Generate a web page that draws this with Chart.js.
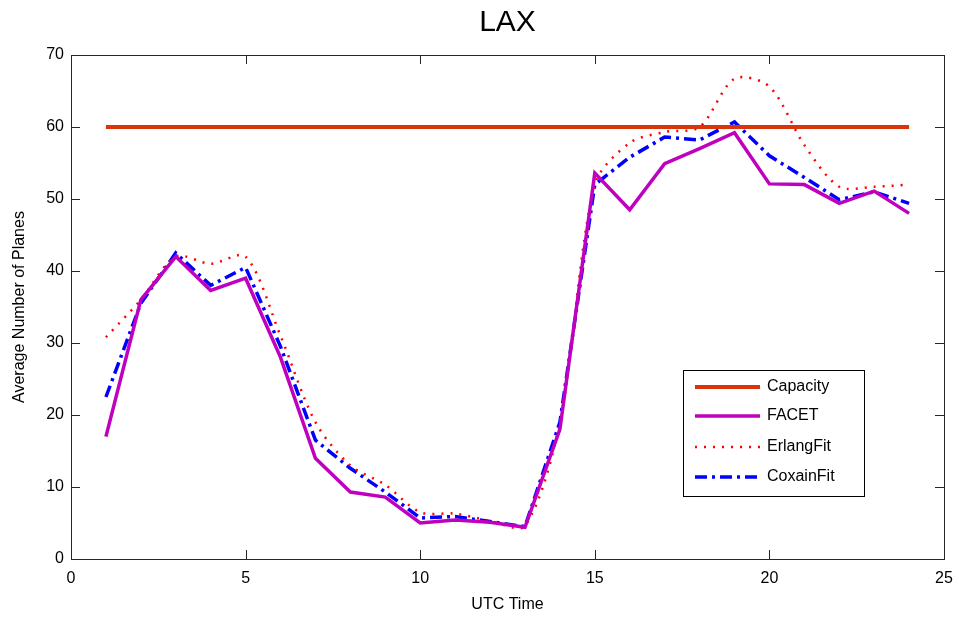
<!DOCTYPE html>
<html>
<head>
<meta charset="utf-8">
<script src="https://cdn.jsdelivr.net/npm/chart.js@4.4.1/dist/chart.umd.min.js"></script>
<style>
html,body{margin:0;padding:0;background:#fff;}
#wrap{width:959px;height:620px;}
</style>
</head>
<body>
<div id="wrap"><canvas id="c" width="959" height="620"></canvas></div>
<script>
const hours = [1,2,3,4,5,6,7,8,9,10,11,12,13,14,15,16,17,18,19,20,21,22,23,24];
const capacity = [60,60,60,60,60,60,60,60,60,60,60,60,60,60,60,60,60,60,60,60,60,60,60,60];
const facet = [17,36,42,37.3,39,28,14,9.3,8.6,5,5.4,5.1,4.4,18,53.6,48.5,54.9,57,59.2,52.1,52,49.4,51.1,48];
const erlangFit = [30.8,36,42,41,42,31,19,13,10.3,6.5,6.3,5.3,4.6,19,52,57.8,59.3,60,66.7,65.6,57.5,51.7,51.7,52];
const coxainFit = [22.5,35.5,42.5,38,40.5,29.5,16.5,12.6,9.3,5.7,5.9,5.2,4.5,19,52,55.8,58.6,58.2,60.7,56,53,49.9,51,49.4];
const xTicks = [0,5,10,15,20,25];
const yTicks = [0,10,20,30,40,50,60,70];
const titleText = 'LAX';
const xLabel = 'UTC Time';
const yLabel = 'Average Number of Planes';

const FONT = "'Liberation Sans', Arial, sans-serif";
function pts(arr){ return hours.map((h,i)=>({x:h,y:arr[i]})); }

const decor = {
  id:'decor',
  afterDraw(chart){
    const ctx = chart.ctx, a = chart.chartArea;
    const xs = chart.scales.x, ys = chart.scales.y;
    ctx.save();
    ctx.strokeStyle = '#262626'; ctx.lineWidth = 1;
    ctx.strokeRect(Math.round(a.left)+0.5, Math.round(a.top)+0.5, Math.round(a.right-a.left), Math.round(a.bottom-a.top));
    const L = 9;
    ctx.beginPath();
    xTicks.forEach(v=>{
      const p = Math.round(xs.getPixelForValue(v))+0.5;
      ctx.moveTo(p,a.bottom); ctx.lineTo(p,a.bottom-L);
      ctx.moveTo(p,a.top); ctx.lineTo(p,a.top+L);
    });
    yTicks.forEach(v=>{
      const p = Math.round(ys.getPixelForValue(v))+0.5;
      ctx.moveTo(a.left,p); ctx.lineTo(a.left+L,p);
      ctx.moveTo(a.right,p); ctx.lineTo(a.right-L,p);
    });
    ctx.stroke();
    // title
    ctx.fillStyle = '#000';
    ctx.font = '30px ' + FONT;
    ctx.textAlign = 'center'; ctx.textBaseline = 'middle';
    ctx.fillText(titleText, (a.left+a.right)/2, 23);
    // legend
    const bx = 683, by = 370, bw = 181, bh = 126;
    ctx.fillStyle = '#fff';
    ctx.fillRect(bx,by,bw,bh);
    ctx.strokeStyle = '#000'; ctx.lineWidth = 1;
    ctx.strokeRect(bx+0.5,by+0.5,bw,bh);
    const rows = [387,416,447,477];
    chart.data.datasets.forEach((ds,i)=>{
      const y = rows[i];
      ctx.save();
      ctx.strokeStyle = ds.borderColor;
      ctx.lineWidth = ds.borderWidth;
      ctx.setLineDash(ds.borderDash || []);
      ctx.beginPath(); ctx.moveTo(695,y); ctx.lineTo(760,y); ctx.stroke();
      ctx.restore();
      ctx.fillStyle = '#000';
      ctx.font = '16px ' + FONT;
      ctx.textAlign = 'left'; ctx.textBaseline = 'middle';
      ctx.fillText(ds.label, 767, y);
    });
    ctx.restore();
  }
};

new Chart(document.getElementById('c'), {
  type:'line',
  data:{
    datasets:[
      {label:'Capacity', data:pts(capacity), borderColor:'#d9340a', borderWidth:4, pointRadius:0, fill:false},
      {label:'FACET', data:pts(facet), borderColor:'#bf00bf', borderWidth:3.5, pointRadius:0, fill:false},
      {label:'ErlangFit', data:pts(erlangFit), borderColor:'#ff0000', borderWidth:2.5, borderDash:[2,7], pointRadius:0, fill:false, tension:0.3},
      {label:'CoxainFit', data:pts(coxainFit), borderColor:'#0000ff', borderWidth:3.5, borderDash:[12,5,3,5], pointRadius:0, fill:false}
    ]
  },
  options:{
    responsive:false, animation:false, devicePixelRatio:1,
    layout:{padding:{top:55,right:15,left:0,bottom:0}},
    plugins:{legend:{display:false}, tooltip:{enabled:false}, title:{display:false}},
    scales:{
      x:{type:'linear', min:0, max:25,
        afterBuildTicks(s){ s.ticks = xTicks.map(v=>({value:v})); },
        afterFit(s){ s.height = 61; s.paddingLeft = 0; s.paddingRight = 0; },
        ticks:{font:{size:16,family:FONT}, color:'#000', padding:10, maxRotation:0},
        grid:{display:true, drawOnChartArea:false, drawTicks:false, color:'#262626'},
        border:{display:true, color:'#262626'},
        title:{display:true, text:xLabel, color:'#000', font:{size:16,family:FONT}, padding:{top:0,bottom:6}}
      },
      y:{type:'linear', min:0, max:70,
        afterBuildTicks(s){ s.ticks = yTicks.map(v=>({value:v})); },
        afterFit(s){ s.width = 71; s.paddingTop = 0; s.paddingBottom = 0; },
        ticks:{font:{size:16,family:FONT}, color:'#000', padding:7},
        grid:{display:true, drawOnChartArea:false, drawTicks:false, color:'#262626'},
        border:{display:true, color:'#262626'},
        title:{display:true, text:yLabel, color:'#000', font:{size:16,family:FONT}, padding:{top:10,bottom:0}}
      }
    }
  },
  plugins:[decor]
});
</script>
</body>
</html>
